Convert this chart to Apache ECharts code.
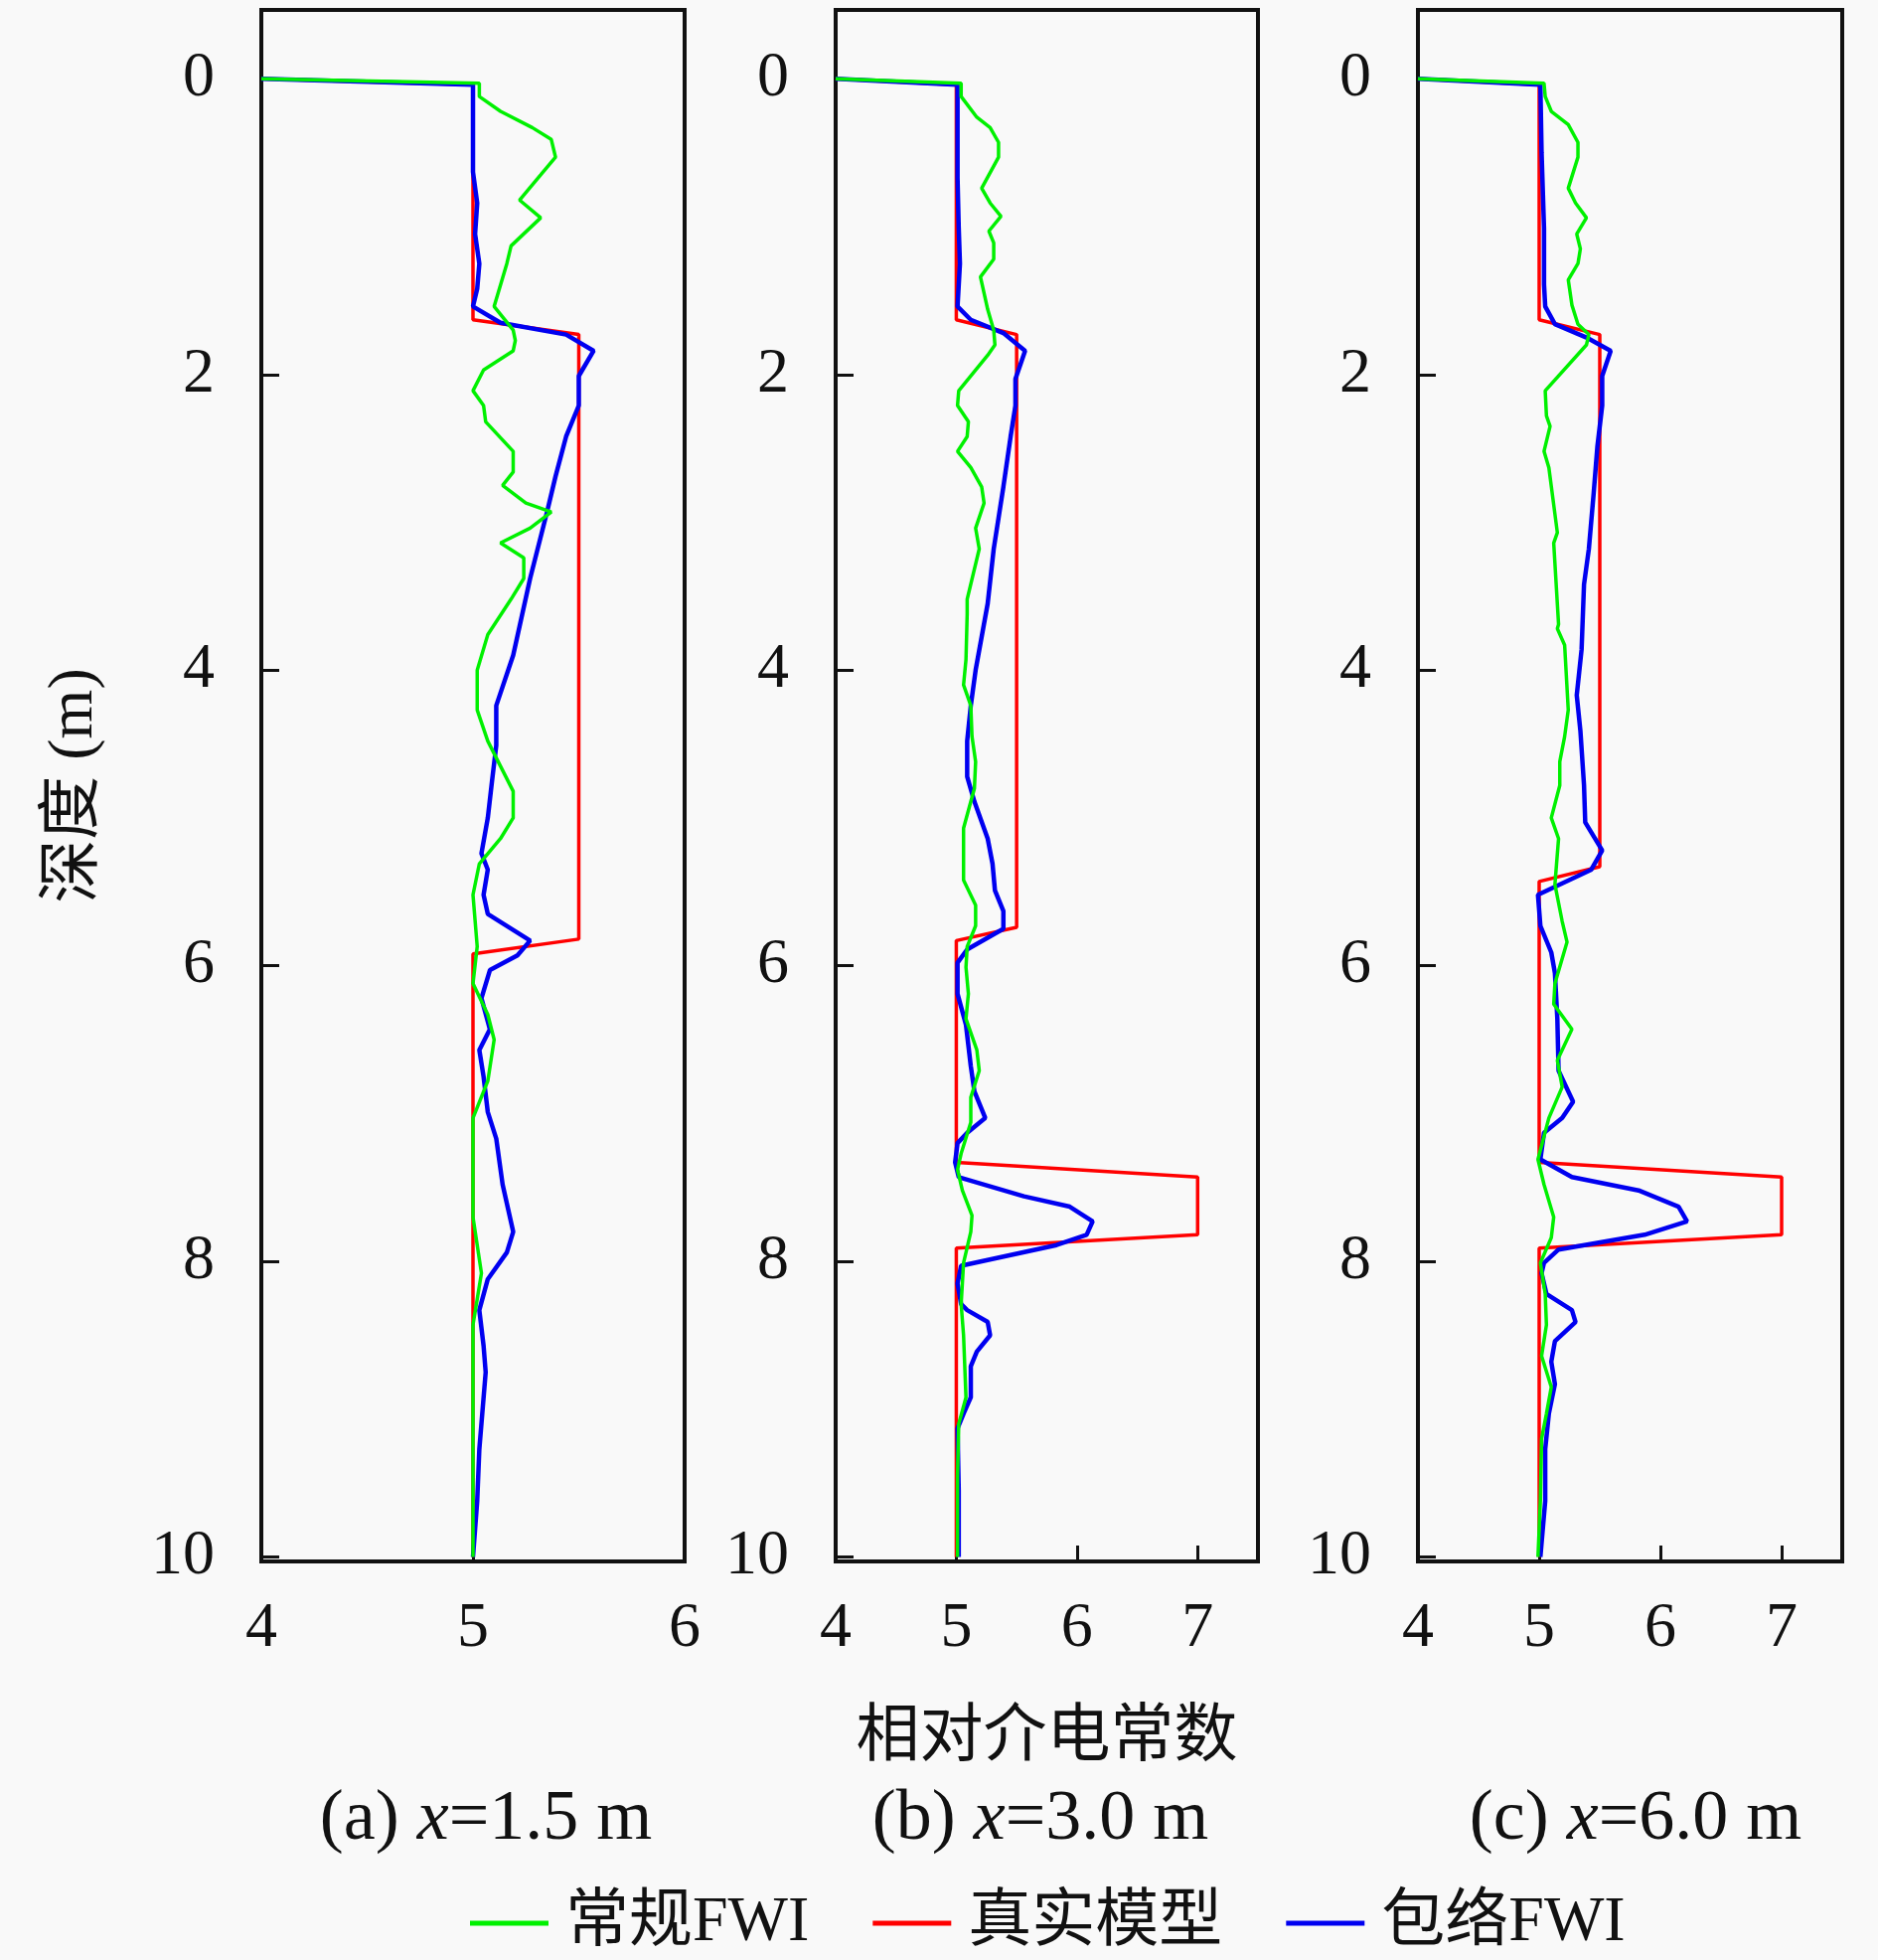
<!DOCTYPE html>
<html>
<head>
<meta charset="utf-8">
<script src="https://cdn.jsdelivr.net/npm/echarts@6/dist/echarts.min.js"></script>
<style>
  html, body { margin: 0; padding: 0; background: #f9f9f9; }
  #chart { width: 1890px; height: 1972px; }
</style>
</head>
<body>
<div id="chart"></div>
<script>
// [permittivity, depth]
const fwiA = [[4.0,0.0],[5.03,0.03],[5.03,0.12],[5.13,0.22],[5.28,0.33],[5.37,0.41],[5.39,0.53],[5.32,0.65],[5.22,0.82],[5.32,0.94],[5.18,1.13],[5.16,1.25],[5.10,1.54],[5.19,1.70],[5.20,1.77],[5.19,1.84],[5.05,1.97],[5.00,2.11],[5.05,2.21],[5.06,2.32],[5.19,2.52],[5.19,2.66],[5.14,2.75],[5.25,2.87],[5.37,2.93],[5.27,3.04],[5.13,3.14],[5.24,3.24],[5.24,3.38],[5.18,3.52],[5.07,3.76],[5.02,4.00],[5.02,4.27],[5.07,4.48],[5.13,4.65],[5.19,4.82],[5.19,5.00],[5.13,5.14],[5.03,5.31],[5.00,5.52],[5.02,5.87],[5.00,6.12],[5.07,6.33],[5.10,6.50],[5.07,6.78],[5.00,7.03],[5.00,7.70],[5.04,8.08],[5.00,8.43],[5.00,10.0]];
const envA = [[4.0,0.0],[5.0,0.04],[5.0,0.63],[5.02,0.84],[5.01,1.05],[5.03,1.25],[5.02,1.42],[5.0,1.54],[5.13,1.65],[5.44,1.73],[5.57,1.84],[5.50,2.01],[5.50,2.21],[5.44,2.42],[5.39,2.69],[5.35,2.93],[5.27,3.38],[5.19,3.90],[5.11,4.24],[5.11,4.51],[5.09,4.75],[5.07,5.00],[5.04,5.24],[5.07,5.35],[5.05,5.52],[5.07,5.65],[5.27,5.83],[5.21,5.93],[5.08,6.03],[5.04,6.22],[5.08,6.43],[5.03,6.57],[5.05,6.75],[5.07,6.99],[5.11,7.17],[5.14,7.48],[5.19,7.80],[5.16,7.94],[5.07,8.12],[5.03,8.33],[5.05,8.57],[5.06,8.75],[5.03,9.27],[5.02,9.62],[5.0,10.0]];
const trueA = [[4.0,0.0],[5.0,0.04],[5.0,1.63],[5.5,1.73],[5.5,5.82],[5.0,5.92],[5.0,10.0]];

const fwiB = [[4.0,0.0],[5.04,0.03],[5.04,0.12],[5.17,0.26],[5.28,0.33],[5.35,0.43],[5.35,0.53],[5.21,0.74],[5.28,0.84],[5.37,0.93],[5.27,1.03],[5.31,1.11],[5.31,1.22],[5.20,1.34],[5.26,1.56],[5.31,1.70],[5.32,1.80],[5.26,1.87],[5.02,2.11],[5.01,2.21],[5.10,2.32],[5.09,2.42],[5.01,2.52],[5.12,2.63],[5.21,2.76],[5.23,2.87],[5.16,3.04],[5.19,3.18],[5.09,3.52],[5.09,3.62],[5.08,3.93],[5.06,4.10],[5.12,4.24],[5.13,4.45],[5.16,4.62],[5.15,4.80],[5.12,4.89],[5.06,5.07],[5.06,5.42],[5.16,5.59],[5.16,5.73],[5.09,5.87],[5.08,6.01],[5.10,6.19],[5.08,6.36],[5.17,6.57],[5.19,6.71],[5.12,6.89],[5.12,7.06],[5.04,7.27],[5.01,7.38],[5.05,7.52],[5.13,7.69],[5.12,7.80],[5.06,8.01],[5.04,8.29],[5.06,8.50],[5.08,8.92],[5.02,9.10],[5.01,9.45],[5.01,10.0]];
const envB = [[4.0,0.0],[5.01,0.04],[5.01,0.67],[5.02,1.01],[5.03,1.25],[5.01,1.54],[5.12,1.63],[5.39,1.72],[5.57,1.84],[5.49,2.03],[5.49,2.21],[5.45,2.42],[5.39,2.76],[5.31,3.18],[5.26,3.55],[5.16,4.00],[5.12,4.24],[5.09,4.48],[5.09,4.72],[5.15,4.89],[5.26,5.14],[5.30,5.31],[5.32,5.49],[5.39,5.63],[5.39,5.75],[5.09,5.89],[5.01,5.98],[5.01,6.19],[5.08,6.40],[5.12,6.68],[5.15,6.85],[5.24,7.03],[5.09,7.13],[5.01,7.20],[4.99,7.33],[5.02,7.43],[5.56,7.56],[5.94,7.63],[6.13,7.73],[6.08,7.82],[5.83,7.89],[5.04,8.03],[5.01,8.15],[5.04,8.29],[5.09,8.33],[5.26,8.41],[5.28,8.50],[5.17,8.61],[5.12,8.71],[5.12,8.92],[5.06,9.03],[5.01,9.13],[5.02,9.55],[5.02,10.0]];
const trueB = [[4.0,0.0],[5.0,0.04],[5.0,1.63],[5.5,1.73],[5.5,5.74],[5.0,5.83],[5.0,7.33],[7.0,7.43],[7.0,7.82],[5.0,7.91],[5.0,10.0]];

const fwiC = [[4.0,0.0],[5.04,0.03],[5.05,0.12],[5.10,0.22],[5.24,0.31],[5.32,0.43],[5.32,0.53],[5.24,0.74],[5.30,0.84],[5.39,0.94],[5.31,1.05],[5.34,1.15],[5.32,1.25],[5.24,1.36],[5.27,1.53],[5.32,1.66],[5.41,1.73],[5.39,1.80],[5.05,2.11],[5.06,2.28],[5.09,2.35],[5.04,2.52],[5.08,2.63],[5.15,3.07],[5.12,3.14],[5.16,3.69],[5.15,3.72],[5.21,3.83],[5.24,4.27],[5.21,4.45],[5.17,4.62],[5.17,4.78],[5.10,5.00],[5.16,5.14],[5.13,5.45],[5.19,5.70],[5.23,5.84],[5.13,6.12],[5.12,6.26],[5.27,6.43],[5.15,6.64],[5.19,6.82],[5.08,7.03],[4.99,7.31],[5.04,7.48],[5.12,7.70],[5.10,7.84],[5.01,8.01],[5.05,8.22],[5.06,8.43],[5.02,8.64],[5.10,8.85],[5.06,9.03],[5.02,9.20],[5.01,9.62],[4.99,10.0]];
const envC = [[4.0,0.0],[5.01,0.04],[5.02,0.50],[5.04,1.01],[5.04,1.39],[5.05,1.54],[5.13,1.66],[5.39,1.75],[5.59,1.84],[5.52,2.01],[5.52,2.21],[5.48,2.49],[5.45,2.80],[5.41,3.18],[5.37,3.42],[5.35,3.86],[5.31,4.17],[5.34,4.41],[5.37,4.78],[5.38,5.03],[5.52,5.22],[5.43,5.35],[4.99,5.52],[5.01,5.73],[5.10,5.91],[5.13,6.05],[5.15,6.36],[5.16,6.71],[5.28,6.92],[5.19,7.03],[5.04,7.13],[5.01,7.31],[5.27,7.43],[5.82,7.52],[6.15,7.63],[6.22,7.73],[5.87,7.82],[5.16,7.92],[5.04,8.01],[5.02,8.08],[5.06,8.22],[5.27,8.33],[5.30,8.41],[5.13,8.54],[5.10,8.68],[5.13,8.83],[5.08,9.03],[5.05,9.27],[5.05,9.62],[5.01,10.0]];
const trueC = [[4.0,0.0],[5.0,0.04],[5.0,1.63],[5.5,1.73],[5.5,5.33],[5.0,5.43],[5.0,7.33],[7.0,7.43],[7.0,7.82],[5.0,7.91],[5.0,10.0]];

const seriesNames = ['常规FWI', '真实模型', '包络FWI'];
const panelTags = ['(a)', '(b)', '(c)'];
const panelPos = ['1.5', '3.0', '6.0'];
const xMax = [6, 7.5, 7.5];
const xTicks = [[4, 5, 6], [4, 5, 6, 7], [4, 5, 6, 7]];
const yTicks = [0, 2, 4, 6, 8, 10];

const panels = [
  { fwi: fwiA, truth: trueA, env: envA },
  { fwi: fwiB, truth: trueB, env: envB },
  { fwi: fwiC, truth: trueC, env: envC }
];

const serif = '"Liberation Serif", "Noto Sans CJK SC", serif';
const ink = '#111';
const colors = { fwi: '#00f000', truth: '#ff0000', env: '#0000f0' };

const gridBoxes = [
  { left: 263, width: 426 },
  { left: 841, width: 425 },
  { left: 1427, width: 427 }
];
const subCenters = [484, 1042, 1641];

const chart = echarts.init(document.getElementById('chart'), null, { renderer: 'canvas' });

const series = [];
panels.forEach((p, i) => {
  const common = { type: 'line', xAxisIndex: i, yAxisIndex: i, symbol: 'none', showSymbol: false, animation: false, silent: true };
  series.push({ ...common, name: seriesNames[1], data: p.truth, z: 2, lineStyle: { color: colors.truth, width: 3.5 }, itemStyle: { color: colors.truth } });
  series.push({ ...common, name: seriesNames[2], data: p.env, z: 3, lineStyle: { color: colors.env, width: 4.5 }, itemStyle: { color: colors.env } });
  series.push({ ...common, name: seriesNames[0], data: p.fwi, z: 4, lineStyle: { color: colors.fwi, width: 3.5 }, itemStyle: { color: colors.fwi } });
});

chart.setOption({
  backgroundColor: '#f9f9f9',
  animation: false,
  title: panelTags.map((tag, i) => ({
    text: `{n|${tag} }{i|x}{n|=${panelPos[i]} m}`,
    left: subCenters[i],
    top: 1790,
    textAlign: 'center',
    textStyle: {
      fontWeight: 'normal',
      rich: {
        n: { fontSize: 72, fontFamily: serif, fontWeight: 'normal', color: ink },
        i: { fontSize: 72, fontFamily: serif, fontStyle: 'italic', fontWeight: 'normal', color: ink }
      }
    }
  })),
  legend: {
    data: seriesNames,
    left: 468,
    top: 1898,
    icon: 'rect',
    itemWidth: 79,
    itemHeight: 5,
    itemGap: 64,
    textStyle: { fontSize: 64, fontFamily: serif, color: ink, padding: [0, 0, 0, 12] }
  },
  grid: gridBoxes.map(g => ({
    left: g.left, width: g.width, top: 10, height: 1561,
    show: true, borderColor: ink, borderWidth: 4, backgroundColor: 'transparent'
  })),
  xAxis: gridBoxes.map((g, i) => ({
    type: 'value',
    gridIndex: i,
    min: 4,
    max: xMax[i],
    name: i === 1 ? '相对介电常数' : '',
    nameLocation: 'middle',
    nameGap: 146,
    nameTextStyle: { fontSize: 64, fontFamily: serif, color: ink },
    axisLine: { onZero: false, lineStyle: { color: ink, width: 4 } },
    axisTick: { inside: true, length: 16, customValues: xTicks[i], lineStyle: { color: ink, width: 3 } },
    axisLabel: { customValues: xTicks[i], margin: 36, fontSize: 64, fontFamily: serif, color: ink },
    splitLine: { show: false }
  })),
  yAxis: gridBoxes.map((g, i) => ({
    type: 'value',
    gridIndex: i,
    inverse: true,
    min: -0.466,
    max: 10.03,
    name: i === 0 ? '深度 (m)' : '',
    nameLocation: 'middle',
    nameGap: 156,
    nameRotate: 90,
    nameTextStyle: { fontSize: 64, fontFamily: serif, color: ink },
    axisLine: { onZero: false, lineStyle: { color: ink, width: 4 } },
    axisTick: { inside: true, length: 18, customValues: yTicks, lineStyle: { color: ink, width: 3 } },
    axisLabel: { customValues: yTicks, margin: 47, fontSize: 64, fontFamily: serif, color: ink },
    splitLine: { show: false }
  })),
  series: series
});
</script>
</body>
</html>
